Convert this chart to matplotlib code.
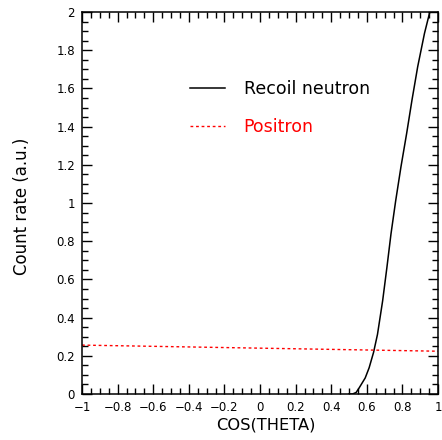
import matplotlib

matplotlib.use("Agg")
import matplotlib.pyplot as plt
from matplotlib.ticker import MultipleLocator

# datos
neutron_cos = [0.50, 0.52, 0.54, 0.557, 0.591, 0.613, 0.638, 0.66, 0.689, 0.713,
               0.736, 0.762, 0.792, 0.824, 0.854, 0.886, 0.924, 0.97, 1.0]
neutron_rate = [0.0, 0.0, 0.008, 0.032, 0.084, 0.137, 0.218, 0.312, 0.488, 0.663,
                0.839, 1.01, 1.19, 1.365, 1.54, 1.714, 1.888, 2.06, 2.15]
positron_cos = [-1.0, 1.0]
positron_rate = [0.256, 0.224]

W, H = 442, 440
fig = plt.figure(figsize=(W / 100, H / 100), dpi=100)
ax = fig.add_axes([82 / W, 1 - 394 / H, (438 - 82) / W, (394 - 12) / H])

ax.plot(neutron_cos, neutron_rate, color="black", linewidth=1.1, label="Recoil neutron")
ax.plot(positron_cos, positron_rate, color="red", linewidth=1.0,
        linestyle=(0, (2, 2)), label="Positron")

ax.set_xlim(-1, 1)
ax.set_ylim(0, 2)
ax.xaxis.set_major_locator(MultipleLocator(0.2))
ax.xaxis.set_minor_locator(MultipleLocator(0.05))
ax.yaxis.set_major_locator(MultipleLocator(0.2))
ax.yaxis.set_minor_locator(MultipleLocator(0.05))


def fmt(v, pos):
    v = round(v, 6)
    if v == 0:
        return "0"
    return f"{v:g}".replace("-", "\u2212")


ax.xaxis.set_major_formatter(plt.FuncFormatter(fmt))
ax.yaxis.set_major_formatter(plt.FuncFormatter(fmt))
ax.tick_params(which="both", direction="in", top=True, right=True, labelsize=8.5, width=1)
ax.tick_params(which="major", length=7, pad=5)
ax.tick_params(which="minor", length=4)
for s in ax.spines.values():
    s.set_linewidth(1.1)

fig.text(266 / W, 1 - 425 / H, "COS(THETA)", ha="center", va="center", fontsize=11.7)
fig.text(22 / W, 1 - 206 / H, "Count rate (a.u.)", ha="center", va="center",
         rotation=90, fontsize=12)

leg = ax.legend(loc="upper left", bbox_to_anchor=(0.259, 0.862), frameon=False,
                fontsize=12.5, handlelength=2.0, handletextpad=1.1, labelspacing=1.15)
for txt, c in zip(leg.get_texts(), ["black", "red"]):
    txt.set_color(c)

fig.savefig("out.png", dpi=100)
